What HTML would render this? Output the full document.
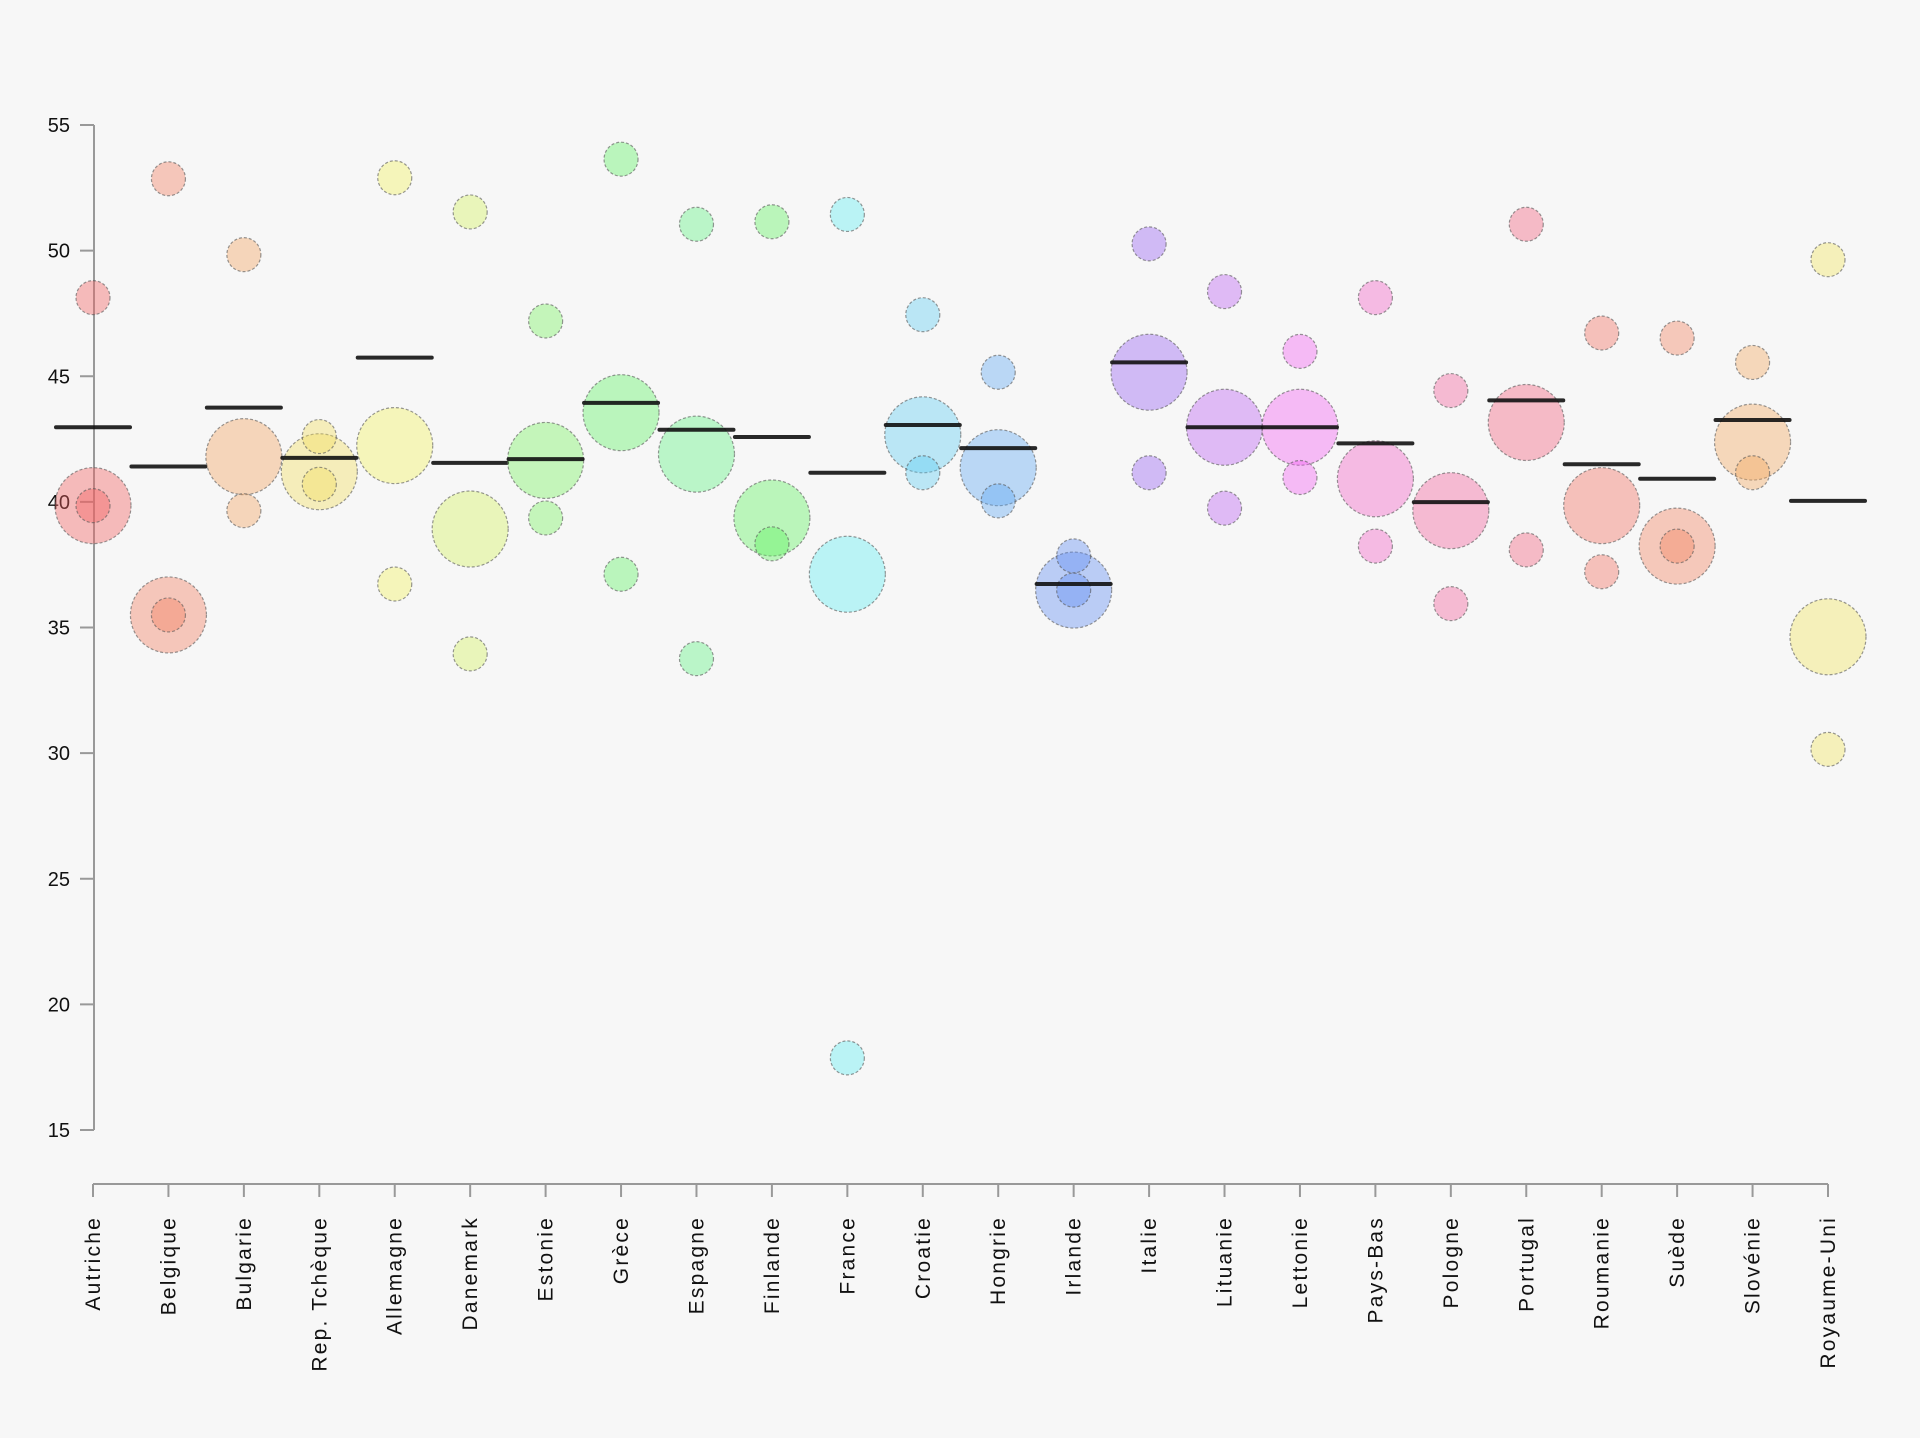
<!DOCTYPE html>
<html><head><meta charset="utf-8"><style>
html,body{margin:0;padding:0;background:#f7f7f7;}
svg{display:block;font-family:"Liberation Sans",Arial,sans-serif;}
</style></head><body>
<svg id="chart" width="1920" height="1438" viewBox="0 0 1920 1438"></svg>
<script>
const countries=["Autriche","Belgique","Bulgarie","Rep. Tchèque","Allemagne","Danemark","Estonie","Grèce","Espagne","Finlande","France","Croatie","Hongrie","Irlande","Italie","Lituanie","Lettonie","Pays-Bas","Pologne","Portugal","Roumanie","Suède","Slovénie","Royaume-Uni"];
const meanValues=[42.97,41.41,43.75,41.75,45.74,41.55,41.7,43.94,42.87,42.58,41.16,43.06,42.14,36.73,45.55,42.97,42.97,42.33,39.99,44.04,41.5,40.92,43.26,40.04];
const bigValues=[39.85,35.5,41.8,41.2,42.24,38.92,41.65,43.55,41.9,39.36,37.12,42.67,41.36,36.49,45.16,42.97,42.97,40.92,39.65,43.16,39.85,38.24,42.38,34.63];
const smallHighValues=[48.13,52.86,49.84,42.6,52.9,51.54,47.2,53.64,51.05,51.15,51.44,47.45,45.16,37.85,50.27,48.37,45.99,48.13,44.43,51.05,46.72,46.52,45.55,49.64];
const smallLowValues=[39.85,35.5,39.65,40.7,36.73,33.95,39.36,37.12,33.76,38.33,17.87,41.16,40.04,36.49,41.16,39.75,40.97,38.24,35.95,38.09,37.22,38.24,41.16,30.15];
const yTicks=[15,20,25,30,35,40,45,50,55];
const hues=[0,12,28,52,60,72,110,122,135,120,182,195,210,222,262,278,300,318,335,348,6,14,30,55];

const NS="http://www.w3.org/2000/svg";
const svg=document.getElementById('chart');
const x0=93,x1=1828,yTop=125,yBot=1130;
function xScale(i){return x0+i*(x1-x0)/(countries.length-1);}
function yScale(v){return yTop+(55-v)*(yBot-yTop)/40;}
function mk(tag,attrs,parent){const e=document.createElementNS(NS,tag);for(const k in attrs)e.setAttribute(k,attrs[k]);(parent||svg).appendChild(e);return e;}

const yAxis=mk('g',{});


mk('line',{x1:94,x2:94,y1:yTop,y2:yBot,stroke:'#999','stroke-width':2},yAxis);
yTicks.forEach(t=>{
  const y=yScale(t);
  mk('line',{x1:80,x2:94,y1:y,y2:y,stroke:'#999','stroke-width':2},yAxis);
  const tx=mk('text',{x:70,y:y+7,'text-anchor':'end','font-size':20,fill:'#111'},yAxis);
  tx.textContent=t;
  
  
});
const xAxis=mk('g',{});


mk('line',{x1:x0,x2:x1,y1:1184,y2:1184,stroke:'#999','stroke-width':2},xAxis);
countries.forEach((c,i)=>{
  const x=xScale(i);
  mk('line',{x1:x,x2:x,y1:1184,y2:1197,stroke:'#999','stroke-width':2},xAxis);
  const tx=mk('text',{transform:`translate(${x+7},1216) rotate(-90)`,'text-anchor':'end','font-size':21,'letter-spacing':2.2,fill:'#111'},xAxis);
  tx.textContent=c;
  
  
});
countries.forEach((c,i)=>{
  const x=xScale(i);
  const fill=`hsl(${hues[i]},85%,66%)`;
  const g=mk('g',{});
  
  
  const sty={fill:fill,'fill-opacity':0.4,stroke:'#555','stroke-opacity':0.6,'stroke-width':1.2,'stroke-dasharray':'3,2'};
  const b=mk('circle',Object.assign({cx:x,cy:yScale(bigValues[i]),r:38},sty),g);
  
  
  const s1=mk('circle',Object.assign({cx:x,cy:yScale(smallHighValues[i]),r:17},sty),g);
  
  
  const s2=mk('circle',Object.assign({cx:x,cy:yScale(smallLowValues[i]),r:17},sty),g);
  
  
  const m=mk('line',{x1:x-37,x2:x+37,y1:yScale(meanValues[i]),y2:yScale(meanValues[i]),stroke:'#111','stroke-width':4,'stroke-linecap':'round','stroke-opacity':0.9},g);
  
  
});
</script>
</body></html>
